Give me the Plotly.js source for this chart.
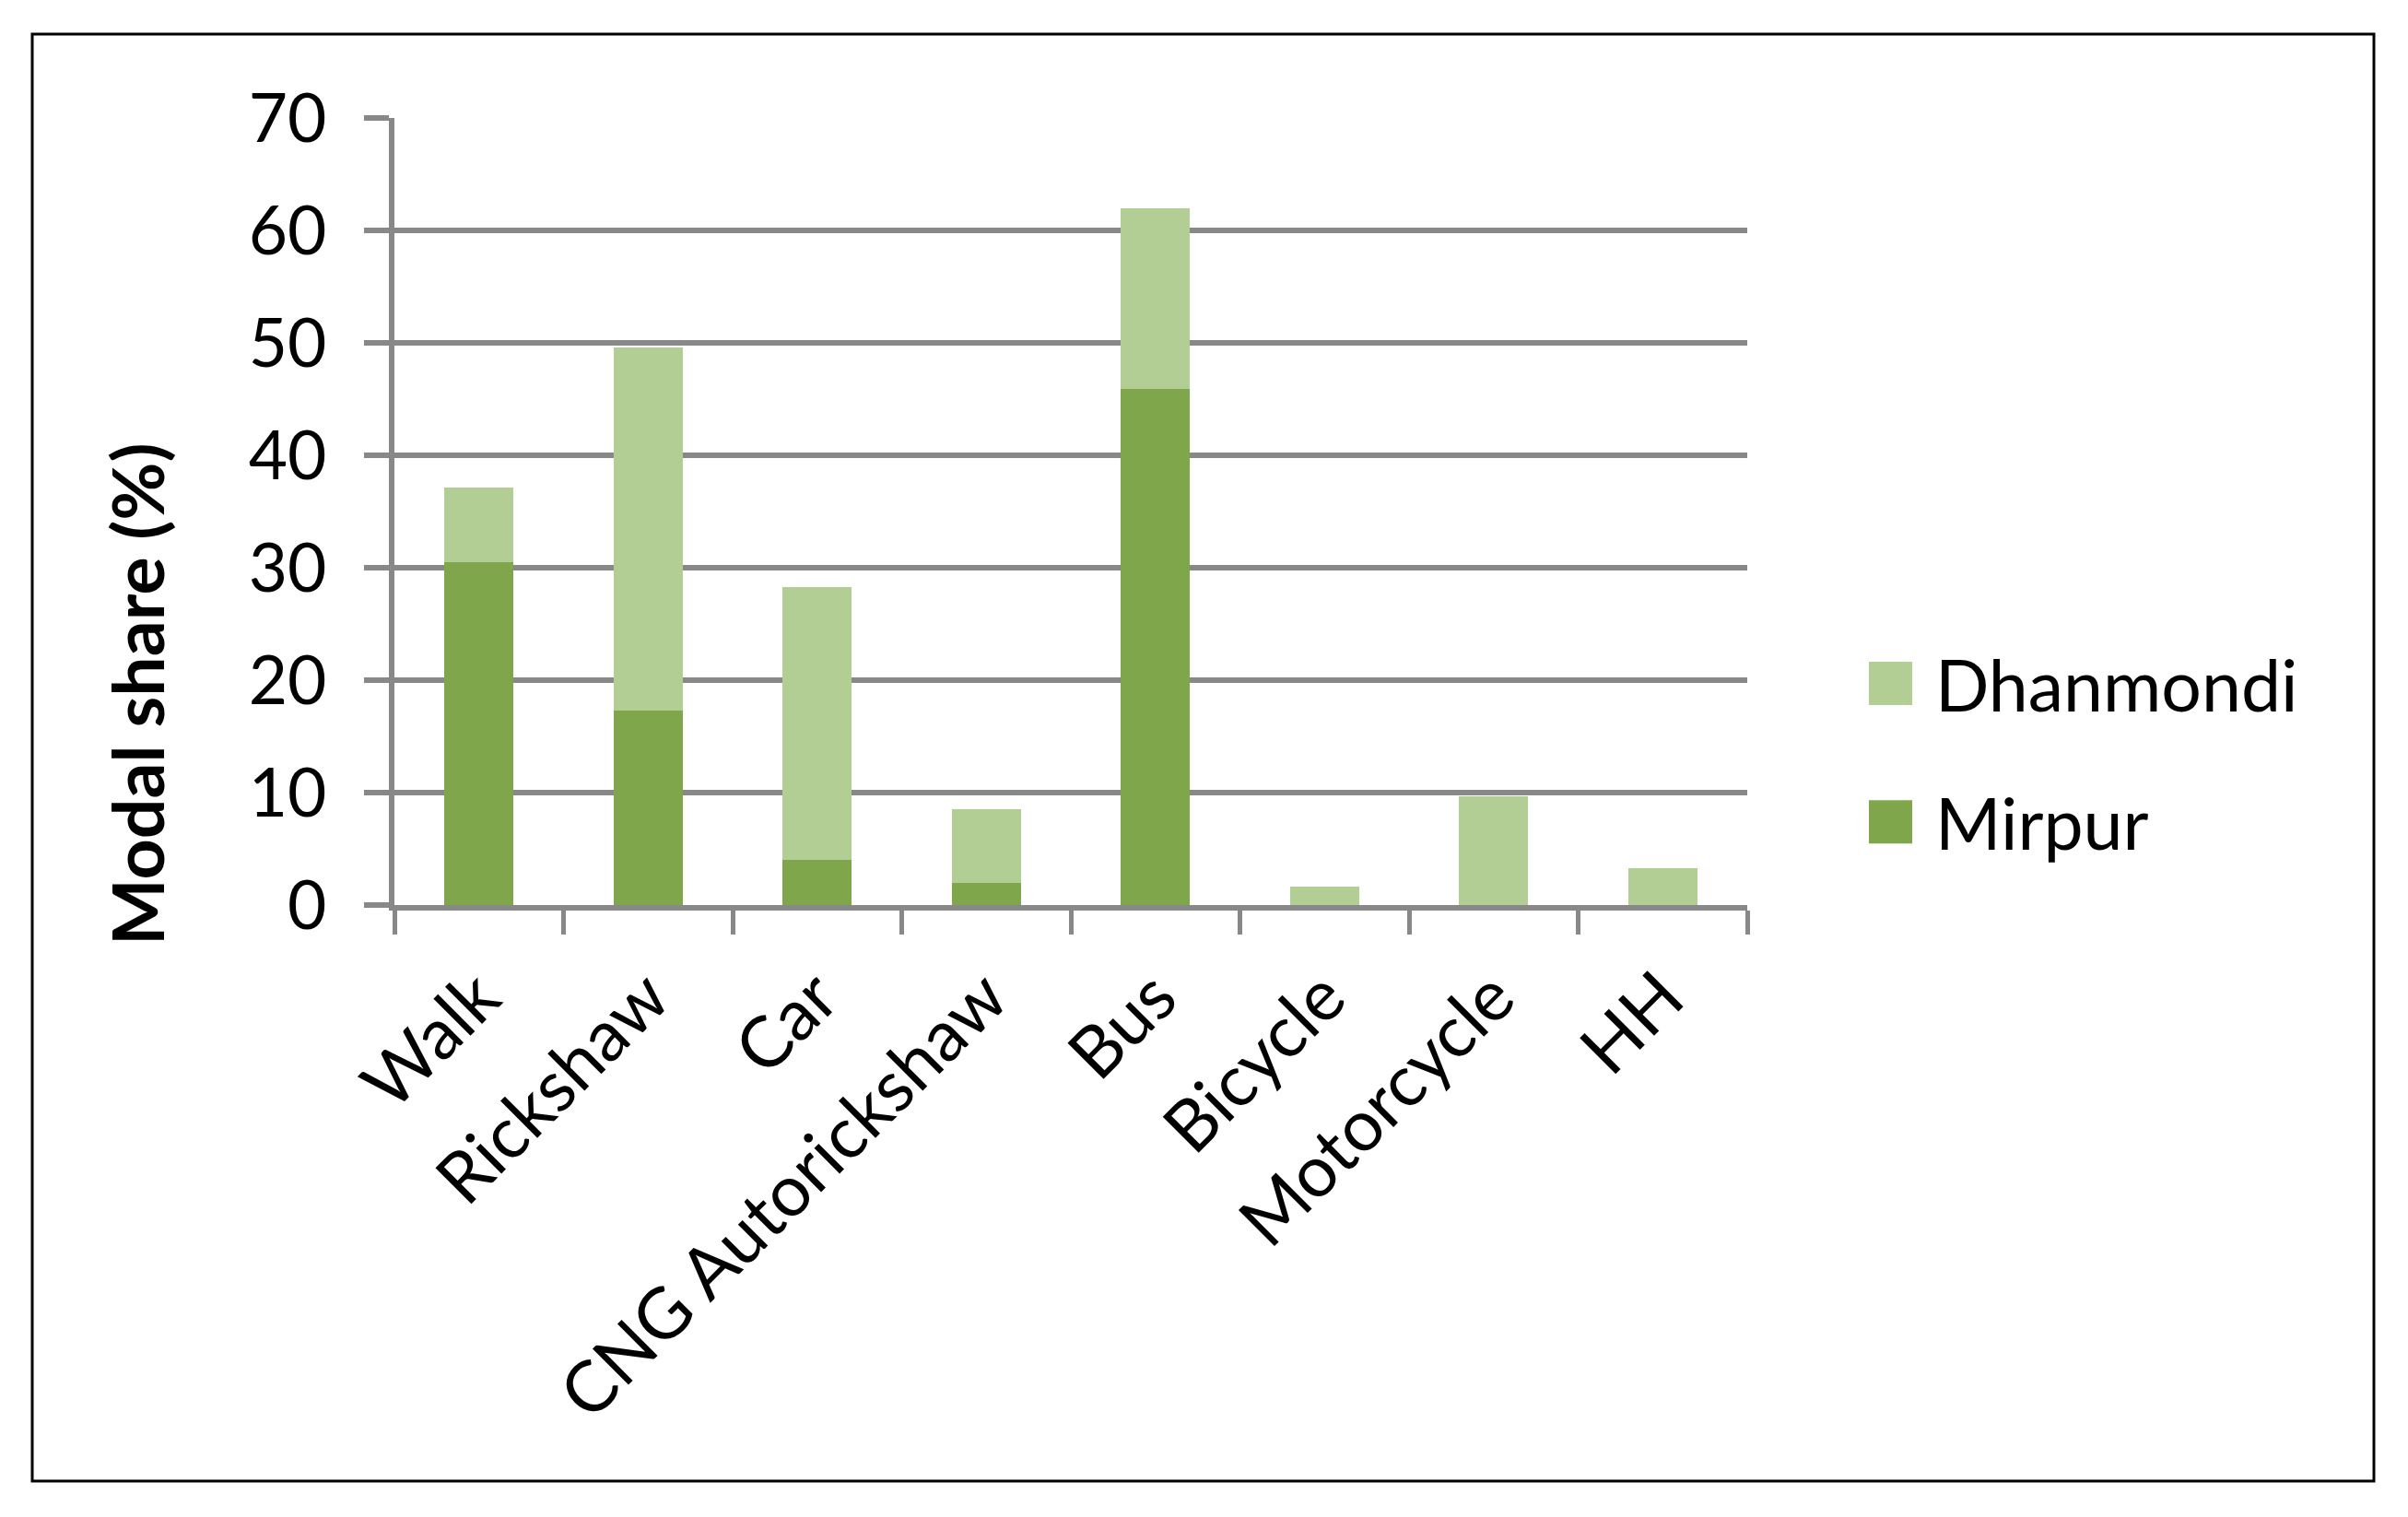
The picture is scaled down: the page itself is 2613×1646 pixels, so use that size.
<!DOCTYPE html>
<html>
<head>
<meta charset="utf-8">
<script src="https://cdn.plot.ly/plotly-3.0.1.min.js"></script>
<style>
html, body { margin: 0; padding: 0; background: #ffffff; }
#chart { width: 2613px; height: 1646px; }
</style>
</head>
<body>
<div id="chart"></div>
<script>
// Transport modes (categories)
const modes = ["Walk", "Rickshaw", "Car", "CNG Autorickshaw", "Bus", "Bicycle", "Motorcycle", "HH"];
// Modal share (%) – Mirpur (lower segment)
const mirpur = [30.5, 17.3, 4.0, 2.0, 45.9, 0, 0, 0];
// Modal share (%) – Dhanmondi (stacked segment on top)
const dhanmondi = [6.6, 32.3, 24.3, 6.5, 16.1, 1.6, 9.7, 3.3];
// Y-axis ticks
const yTicks = [0, 10, 20, 30, 40, 50, 60, 70];

const FONT = "Lato, 'Open Sans', 'Noto Sans', sans-serif";
const GRID = "#888888";

const traces = [
  {
    type: "bar", name: "Mirpur", x: modes, y: mirpur,
    marker: { color: "#7FA64A", line: { width: 0 } },
    legendgroup: "m", legendrank: 2, hoverinfo: "skip"
  },
  {
    type: "bar", name: "Dhanmondi", x: modes, y: dhanmondi,
    marker: { color: "#B3CE95", line: { width: 0 } },
    legendgroup: "d", legendrank: 1, hoverinfo: "skip"
  }
];

const W = 2613, H = 1646;
const L = 428, R = 717, T = 128, B = 664;
const pw = W - L - R, ph = H - T - B;
const px = v => (v - L) / pw;
const py = v => (H - B - v) / ph;

const layout = {
  width: W, height: H,
  margin: { l: L, r: R, t: T, b: B, pad: 0 },
  paper_bgcolor: "#ffffff", plot_bgcolor: "#ffffff",
  barmode: "stack",
  bargap: 0.59,
  font: { family: FONT, size: 73, color: "#000000" },
  showlegend: true,
  legend: {
    xref: "container", yref: "container",
    x: 2003 / W, xanchor: "left",
    y: 1 - 685 / H, yanchor: "top",
    traceorder: "grouped",
    tracegroupgap: 47,
    itemwidth: 87,
    font: { family: FONT, size: 77, color: "#000000" },
    bgcolor: "rgba(0,0,0,0)", borderwidth: 0
  },
  xaxis: {
    type: "category",
    showgrid: false, zeroline: false,
    showline: true, linecolor: GRID, linewidth: 6,
    ticks: "outside", tickson: "boundaries", ticklen: 26, tickwidth: 5, tickcolor: GRID,
    tickangle: -45,
    ticklabelstandoff: 18,
    tickfont: { family: FONT, size: 77, color: "#000000" },
    automargin: false
  },
  yaxis: {
    range: [0, 70], tickvals: yTicks, ticktext: yTicks.map(String),
    showgrid: true, gridcolor: GRID, gridwidth: 6,
    zeroline: false,
    showline: true, linecolor: GRID, linewidth: 6,
    ticks: "outside", ticklen: 27, tickwidth: 6, tickcolor: GRID,
    ticklabelstandoff: 26,
    tickfont: { family: FONT, size: 73, color: "#000000" },
    automargin: false
  },
  annotations: [
    {
      xref: "paper", yref: "paper",
      x: px(148), y: py(753),
      xanchor: "center", yanchor: "middle",
      text: "<b>Modal share (%)</b>", textangle: -90, showarrow: false,
      font: { family: FONT, size: 77, color: "#000000" }
    }
  ],
  shapes: [
    {
      type: "rect", xref: "paper", yref: "paper", layer: "above",
      x0: px(35), x1: px(2576), y0: py(1607), y1: py(37),
      line: { color: "#000000", width: 3 }, fillcolor: "rgba(0,0,0,0)"
    }
  ]
};

Plotly.newPlot("chart", traces, layout, { staticPlot: true, displayModeBar: false }).then(function () {
  // Enlarge legend swatches to match the reference's large squares
  document.querySelectorAll("#chart .legend .traces").forEach(function (g) {
    const txt = g.querySelector("text.legendtext");
    const path = g.querySelector("path.legendbar") || g.querySelector(".legendpoints path");
    if (!txt || !path) return;
    const tx = parseFloat(txt.getAttribute("x")) || 40;
    let cx = 0;
    const tr = path.getAttribute("transform");
    if (tr) { const m = /translate\(\s*([-\d.]+)/.exec(tr); if (m) cx = parseFloat(m[1]); }
    let pg = path.parentNode, off = 0;
    while (pg && pg !== g) {
      const t2 = pg.getAttribute && pg.getAttribute("transform");
      if (t2) { const m2 = /translate\(\s*([-\d.]+)/.exec(t2); if (m2) off += parseFloat(m2[1]); }
      pg = pg.parentNode;
    }
    const b = tx - 25 - cx - off, a = b - 47;
    path.setAttribute("d", "M" + a + ",-23.5H" + b + "V23.5H" + a + "Z");
  });
});
</script>
</body>
</html>
